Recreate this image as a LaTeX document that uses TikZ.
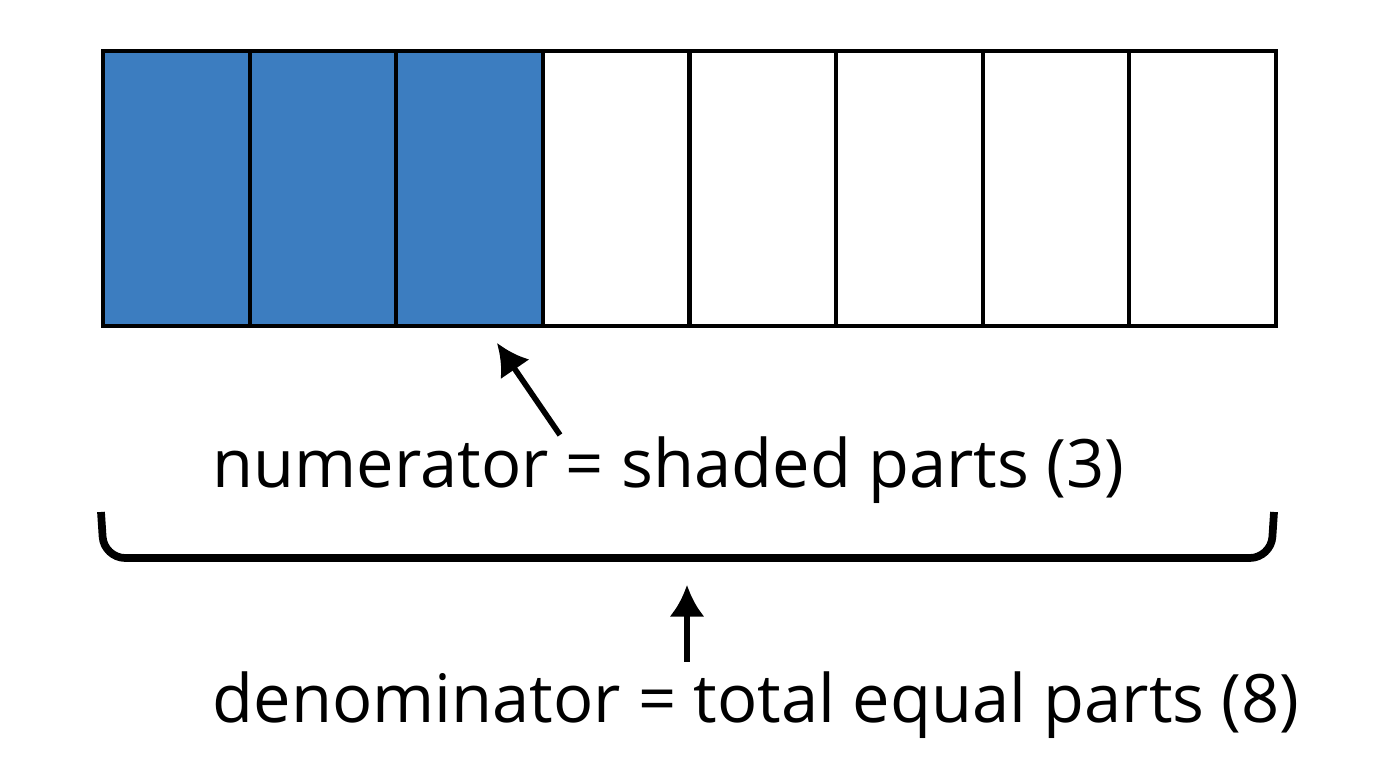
\documentclass[tikz,border=0pt]{standalone}
\usepackage{fontspec}
\setmainfont{Open Sans}
\usetikzlibrary{positioning,arrows.meta}
\definecolor{shade}{HTML}{3C7DC0}
\begin{document}
\begin{tikzpicture}[x=0.01cm,y=-0.01cm,
    cell/.style={draw=black, line width=1.2pt, minimum width=1.466cm, minimum height=2.75cm, inner sep=0pt, anchor=north west},
    label/.style={font=\fontsize{19}{23}\selectfont, inner sep=0pt},
    pointer/.style={-{Latex[length=9pt,width=10pt]}, line width=1.6pt}]
    \useasboundingbox (0,0) rectangle (1376,768);
    % bar of eight equal parts
    \foreach \i in {0,...,7} {
        \pgfmathsetmacro{\xx}{101+146.6*\i}
        \ifnum\i<3
            \node[cell, fill=shade] (c\i) at (\xx,49) {};
        \else
            \node[cell, fill=white] (c\i) at (\xx,49) {};
        \fi
    }
    \node[label, anchor=west] (num) at (212,470) {numerator = shaded parts (3)};
    \node[label, anchor=west] (den) at (212,705) {denominator = total equal parts (8)};
    \coordinate (numtail) at (560,435);
    \coordinate (numtip) at (497,343);
    \draw[pointer] (numtail) -- (numtip);
    % bracket under the whole bar
    \coordinate (bl) at (101,512);
    \coordinate (br) at (1274,512);
    \draw[line width=2.2pt, rounded corners=6pt] (bl) -- (104,558) -- (1271,558) -- (br);
    \coordinate (dentail) at (687,662);
    \coordinate (dentip) at (687,585);
    \draw[pointer] (dentail) -- (dentip);
\end{tikzpicture}
\end{document}
